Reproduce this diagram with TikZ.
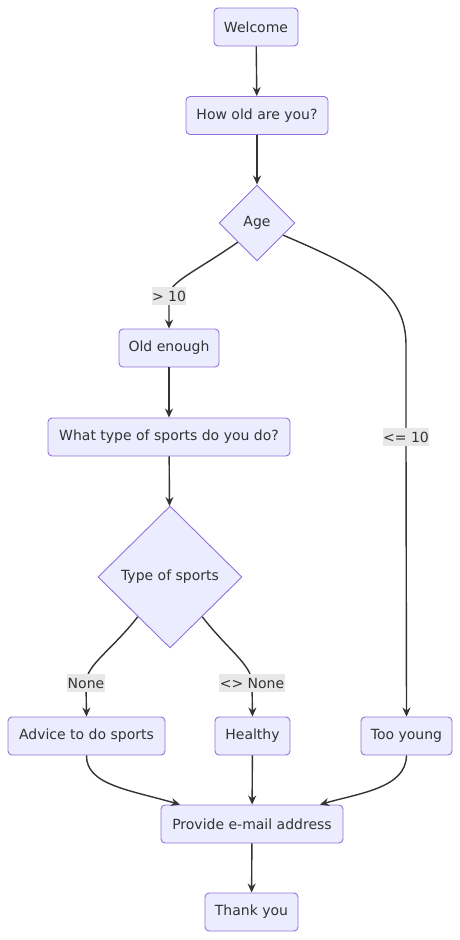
\documentclass[tikz,border=0pt]{standalone}
\usepackage{fontspec}
\setmainfont{DejaVu Sans}
\usetikzlibrary{shapes.geometric,arrows.meta}
\definecolor{nfill}{HTML}{ECECFF}
\definecolor{nstroke}{HTML}{9370DB}
\definecolor{ntext}{HTML}{333333}
\definecolor{lblbg}{HTML}{E8E8E8}
\tikzset{
  box/.style={draw=nstroke, fill=nfill, rounded corners=4pt, line width=0.9pt, text=ntext,
    font=\fontsize{14}{16}\selectfont, minimum height=38pt, inner sep=0pt},
  dia/.style={draw=nstroke, fill=nfill, shape=diamond, line width=0.9pt, text=ntext,
    font=\fontsize{14}{16}\selectfont, inner sep=0pt},
  edge/.style={draw=ntext, line width=1.4pt, -{Stealth[length=9pt,width=8pt]}},
  lbl/.style={fill=lblbg, text=ntext, font=\fontsize{14}{16}\selectfont, inner xsep=0.5pt, inner ysep=1.5pt, minimum height=18pt}
}
\begin{document}
\begin{tikzpicture}[x=1pt,y=-1pt]
\useasboundingbox (0,0) rectangle (460,940);
\node[box, minimum width=84pt] (welcome) at (256,27) {Welcome};
\node[box, minimum width=142pt] (how) at (257,115.5) {How old are you?};
\node[dia, minimum width=76pt, minimum height=76pt] (age) at (257,223) {Age};
\node[box, minimum width=100pt] (old) at (169,348) {Old enough};
\node[box, minimum width=242pt] (what) at (169,437) {What type of sports do you do?};
\node[dia, minimum width=144pt, minimum height=142pt] (type) at (170,577) {Type of sports};
\node[box, minimum width=157pt] (advice) at (86.5,736) {Advice to do sports};
\node[box, minimum width=75pt] (healthy) at (252.5,736) {Healthy};
\node[box, minimum width=91pt] (young) at (406.5,736) {Too young};
\node[box, minimum width=182pt] (provide) at (252,824) {Provide e-mail address};
\node[box, minimum width=93pt] (thanks) at (251.5,912) {Thank you};

\draw[edge] (welcome) -- (how);
\draw[edge] (how) -- (age);
\draw[edge] (age.south west) .. controls (195,272) and (169,282) .. (169,296) node[lbl] {> 10} -- (old.north);
\draw[edge] ([shift={(7,-7)}]age.south east) .. controls (370,272) and (406,295) .. (406,345) -- (406,437) node[lbl] {<= 10} -- (young.north);
\draw[edge] (old) -- (what);
\draw[edge] (what) -- (type);
\draw[edge] ([shift={(4,4)}]type.south west) .. controls (112,650) and (86,665) .. (86,683) node[lbl] {None} -- (advice.north);
\draw[edge] ([shift={(-4,4)}]type.south east) .. controls (228,650) and (252,665) .. (252,683) node[lbl] {<> None} -- (healthy.north);
\draw[edge] (advice.south) .. controls (86,785) and (130,790) .. ([xshift=-72pt]provide.north);
\draw[edge] (healthy) -- (provide);
\draw[edge] (young.south) .. controls (406,788) and (360,793) .. ([xshift=68pt]provide.north);
\draw[edge] (provide) -- (thanks);
\end{tikzpicture}
\end{document}
